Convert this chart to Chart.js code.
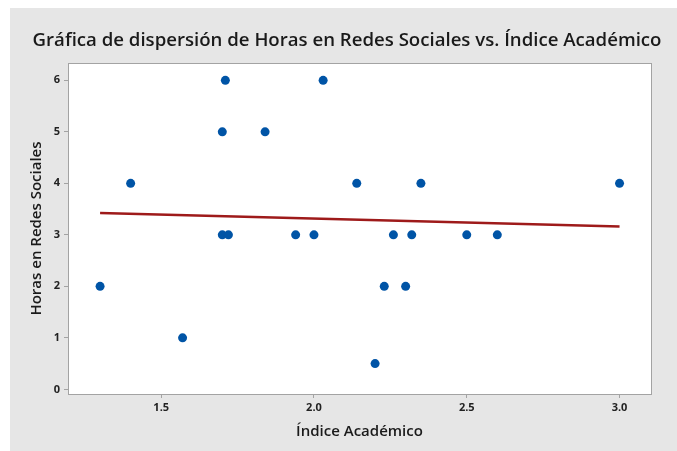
<!DOCTYPE html>
<html><head><meta charset="utf-8">
<script src="https://cdn.jsdelivr.net/npm/chart.js@4"></script>
<style>
html,body{margin:0;padding:0;background:#fff;width:677px;height:451px;overflow:hidden}
#wrap{position:absolute;left:10px;top:8px;width:667px;height:443px;background:#e6e6e6}
canvas{display:block}
</style></head>
<body><div id="wrap"><canvas id="c" width="667" height="443" style="width:667px;height:443px"></canvas></div>
<script>
const chartTitle = "Gráfica de dispersión de Horas en Redes Sociales vs. Índice Académico";
const xAxisTitle = "Índice Académico";
const yAxisTitle = "Horas en Redes Sociales";
const indiceAcademico = [1.30,1.40,1.57,1.70,1.71,1.70,1.72,1.84,1.94,2.00,2.03,2.14,2.20,2.23,2.26,2.30,2.32,2.35,2.50,2.60,3.00];
const horasRedes      = [2,   4,   1,   5,   6,   3,   3,   5,   3,   3,   6,   4,   0.5, 2,   3,   2,   3,   4,   3,   3,   4];
const xTickValues = [1.5, 2.0, 2.5, 3.0];
const yTickValues = [0, 1, 2, 3, 4, 5, 6];

// least-squares fit line from the data
const n = indiceAcademico.length;
const mx = indiceAcademico.reduce((a,b)=>a+b,0)/n;
const my = horasRedes.reduce((a,b)=>a+b,0)/n;
let sxy=0, sxx=0;
for (let i=0;i<n;i++){ sxy+=(indiceAcademico[i]-mx)*(horasRedes[i]-my); sxx+=(indiceAcademico[i]-mx)**2; }
const slope = sxy/sxx, icpt = my - slope*mx;
const xMin = Math.min(...indiceAcademico), xMax = Math.max(...indiceAcademico);
const fitLine = [{x:xMin, y:icpt+slope*xMin},{x:xMax, y:icpt+slope*xMax}];

const FONT = "'Open Sans', 'Noto Sans', sans-serif";

const bgPlugin = {
  id:'bg',
  beforeDraw(chart){
    const {ctx, chartArea:a} = chart;
    ctx.save();
    ctx.fillStyle='#ffffff';
    ctx.fillRect(a.left, a.top, a.right-a.left, a.bottom-a.top);
    ctx.restore();
  },
  afterDraw(chart){
    const {ctx, chartArea:a} = chart;
    ctx.save();
    ctx.strokeStyle='#a3a3a3'; ctx.lineWidth=1;
    ctx.strokeRect(Math.round(a.left)+0.5, Math.round(a.top)+0.5, Math.round(a.right-a.left), Math.round(a.bottom-a.top));
    // title
    ctx.fillStyle='#1a1a1a';
    ctx.textAlign='center'; ctx.textBaseline='middle';
    let fs = 20;
    ctx.font = `600 ${fs}px ${FONT}`;
    const w = ctx.measureText(chartTitle).width;
    fs = fs * 629 / w;
    ctx.font = `600 ${fs}px ${FONT}`;
    ctx.fillText(chartTitle, 337, 33);
    ctx.restore();
  }
};

new Chart(document.getElementById('c'), {
  data:{
    datasets:[
      {type:'scatter', data: indiceAcademico.map((x,i)=>({x, y:horasRedes[i]})),
       backgroundColor:'#0054a6', borderColor:'#0054a6', pointRadius:4.5, pointHoverRadius:4.5, borderWidth:0, order:1},
      {type:'line', data: fitLine, borderColor:'#9e1a1a', borderWidth:2.5, pointRadius:0, fill:false, order:2}
    ]
  },
  options:{
    responsive:false, animation:false,
    layout:{padding:{top:55, right:26, left:0, bottom:0}},
    plugins:{legend:{display:false}, tooltip:{enabled:false}, title:{display:false}},
    scales:{
      x:{type:'linear', min:1.195, max:3.103,
         afterBuildTicks:s=>{s.ticks = xTickValues.map(v=>({value:v}));},
         afterFit:s=>{s.height=57;},
         ticks:{callback:v=>v.toFixed(1), font:{family:FONT, size:11, weight:'bold'}, color:'#222', padding:3, maxRotation:0},
         grid:{drawOnChartArea:false, drawTicks:true, tickLength:4, color:'#a3a3a3'},
         border:{display:true, color:'#a3a3a3'},
         title:{display:true, text:xAxisTitle, font:{family:FONT, size:15, weight:'600'}, color:'#1a1a1a', padding:{top:0,bottom:10}}
      },
      y:{type:'linear', min:-0.09, max:6.336,
         afterBuildTicks:s=>{s.ticks = yTickValues.map(v=>({value:v}));},
         afterFit:s=>{s.width=58;},
         ticks:{callback:v=>String(v), font:{family:FONT, size:11, weight:'bold'}, color:'#222', padding:4},
         grid:{drawOnChartArea:false, drawTicks:true, tickLength:4, color:'#a3a3a3'},
         border:{display:true, color:'#a3a3a3'},
         title:{display:true, text:yAxisTitle, font:{family:FONT, size:15, weight:'600'}, color:'#1a1a1a', padding:{top:18,bottom:0}}
      }
    }
  },
  plugins:[bgPlugin]
});
</script></body></html>
